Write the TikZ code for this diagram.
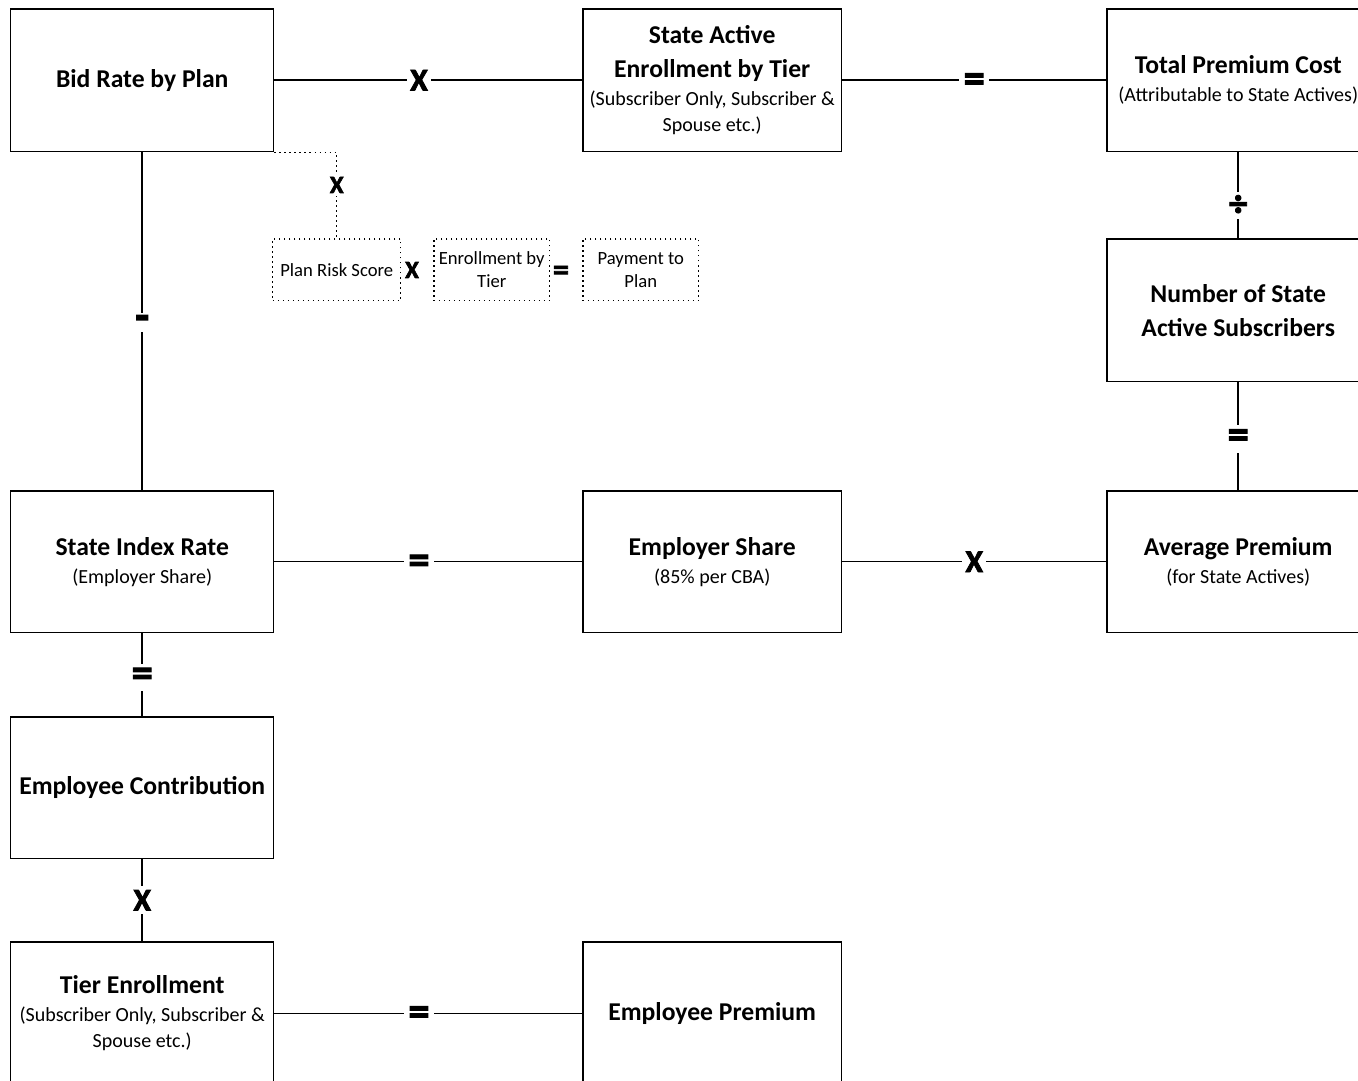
\documentclass[tikz,border=0pt]{standalone}
\usepackage{fontspec}
\setmainfont{Carlito}
\newfontfamily\opfont[BoldFeatures={FakeBold=2.5}]{Carlito}
\newcommand{\bxtitle}{\fontsize{14.6}{16}\bfseries\selectfont}
\newcommand{\bxnote}{\fontsize{11.4}{12}\selectfont}

\begin{document}
\begin{tikzpicture}[x=0.02cm, y=-0.02cm, line width=0.85pt,
	box/.style={draw, line width=0.85pt, rectangle, anchor=north west, align=center, minimum width=5.26cm, minimum height=2.86cm, inner sep=1pt, font=\fontsize{11.4}{14.7}\selectfont},
	dotbox/.style={draw, dotted, line width=0.85pt, rectangle, anchor=north west, align=center, minimum height=1.24cm, inner sep=0.5pt, font=\fontsize{10.6}{13}\selectfont},
	op/.style={fill=white, inner sep=2pt, font=\fontsize{18}{18}\opfont\bfseries\selectfont},
	opeq/.style={op, inner sep=2.5pt, yshift=-1.5pt, font=\fontsize{24}{24}\opfont\bfseries\selectfont},
	opsmall/.style={fill=white, inner sep=1.5pt, font=\fontsize{14}{14}\opfont\bfseries\selectfont}]
	\fill[white] (0,0) rectangle (1358,1080);
	\useasboundingbox (0,0) rectangle (1358,1080);
	\clip (0,0) rectangle (1358,1080);
	% top row
	\node[box] (bid) at (10,8) {\bxtitle Bid Rate by Plan};
	\node[box, minimum width=5.18cm] (sae) at (582,8) {\bxtitle State Active\\[4.6pt] \bxtitle Enrollment by Tier\\[1.2pt] \bxnote (Subscriber Only, Subscriber \&\\ \bxnote Spouse etc.)};
	\node[box] (tpc) at (1106,8) {\bxtitle Total Premium Cost\\[1.2pt] \bxnote (Attributable to State Actives)};
	\node[box] (nsa) at (1106,238) {\bxtitle Number of State\\[4.6pt] \bxtitle Active Subscribers};
	% plan payment detail
	\node[dotbox, minimum width=2.56cm] (prs) at (272,238) {Plan Risk Score};
	\node[dotbox, minimum width=2.32cm] (ebt) at (433,238) {Enrollment by\\ Tier};
	\node[dotbox, minimum width=2.32cm] (ptp) at (582,238) {Payment to\\ Plan};
	\node[opsmall] (xprs) at (412,270) {X};
	\node[opsmall, font=\fontsize{18}{18}\opfont\bfseries\selectfont] (eqptp) at (561,273) {=};
	% middle row
	\node[box, minimum height=2.84cm] (idx) at (10,490) {\bxtitle State Index Rate\\[1.2pt] \bxnote (Employer Share)};
	\node[box, minimum width=5.18cm, minimum height=2.84cm] (emp) at (582,490) {\bxtitle Employer Share\\[1.2pt] \bxnote (85\% per CBA)};
	\node[box, minimum height=2.84cm] (avg) at (1106,490) {\bxtitle Average Premium\\[1.2pt] \bxnote (for State Actives)};
	% employee side
	\node[box, minimum height=2.84cm] (ec) at (10,716) {\bxtitle Employee Contribution};
	\node[box] (tier) at (10,941) {\bxtitle Tier Enrollment\\[1.2pt] \bxnote (Subscriber Only, Subscriber \&\\ \bxnote Spouse etc.)};
	\node[box, minimum width=5.18cm] (epr) at (582,941) {\bxtitle Employee Premium};
	% connectors
	\draw (bid) -- node[op, pos=0.47] {X} (sae);
	\draw (sae) -- node[opeq] {=} (tpc);
	\draw (tpc) -- node[op, pos=0.62, font=\fontsize{21}{21}\opfont\bfseries\selectfont] {÷} (nsa);
	\draw (nsa) -- node[opeq] {=} (avg);
	\draw (avg) -- node[op] {X} (emp);
	\draw (emp) -- node[opeq, pos=0.53] {=} (idx);
	\draw (bid) -- node[op, pos=0.505, inner sep=1pt, font=\fontsize{26}{26}\opfont\bfseries\selectfont] {-} (idx);
	\draw (idx) -- node[opeq] {=} (ec);
	\draw (ec) -- node[op] {X} (tier);
	\draw (tier.east |- epr.west) -- node[opeq, pos=0.47] {=} (epr);
	\draw[dotted] (bid.south east) -| node[opsmall, pos=0.69] {X} (prs.north);
\end{tikzpicture}
\end{document}
